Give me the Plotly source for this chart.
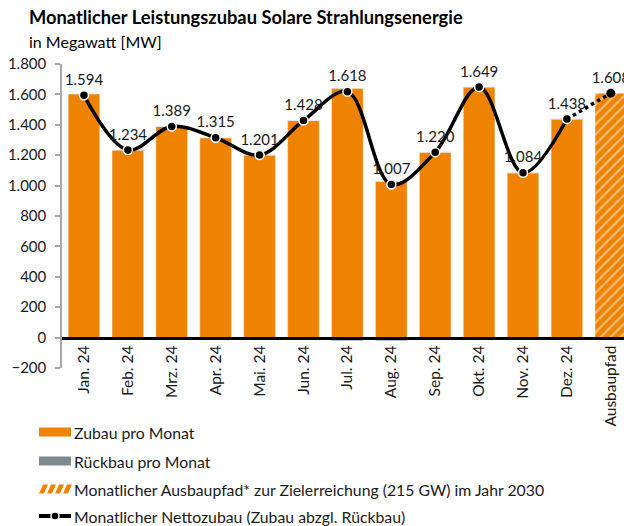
import plotly.graph_objects as go

# ---------------- data ----------------
months = ["Jan. 24", "Feb. 24", "Mrz. 24", "Apr. 24", "Mai. 24", "Jun. 24",
          "Jul. 24", "Aug. 24", "Sep. 24", "Okt. 24", "Nov. 24", "Dez. 24"]
target_label = "Ausbaupfad"
zubau = [1602, 1234, 1389, 1315, 1201, 1428, 1638, 1027, 1220, 1649, 1084, 1438]
rueckbau = [-8, 0, 0, 0, 0, 0, -20, -20, 0, 0, 0, 0]
netto = [1594, 1234, 1389, 1315, 1201, 1428, 1618, 1007, 1220, 1649, 1084, 1438]
ausbaupfad = [1608]
y_ticks = [-200, 0, 200, 400, 600, 800, 1000, 1200, 1400, 1600, 1800]

ORANGE = "#EF8200"
GREY = "#7F8A90"
FONT = "Lato"

# plot area in pixels (for legend/title placement helpers)
W, H = 624, 526
L, R, T, B = 62, 624, 64, 368


def px(x):
    return (x - L) / (R - L)


def py(y):
    return (B - y) / (B - T)


fig = go.Figure()

fig.add_trace(go.Bar(x=months, y=zubau, marker_color=ORANGE, name="Zubau pro Monat",
                     width=0.72, showlegend=False))
fig.add_trace(go.Bar(x=months, y=rueckbau, marker_color=GREY, name="Rückbau pro Monat",
                     width=0.72, showlegend=False))
fig.add_trace(go.Bar(x=[target_label], y=ausbaupfad, width=0.72, showlegend=False,
                     name="Monatlicher Ausbaupfad",
                     marker=dict(color=ORANGE,
                                 pattern=dict(shape="/", fgcolor="white", fillmode="overlay",
                                              size=7, solidity=0.3))))

# dotted extension Dez -> Ausbaupfad
fig.add_trace(go.Scatter(x=[months[-1], target_label], y=[netto[-1], ausbaupfad[0]],
                         mode="lines", line=dict(color="black", width=3.5, dash="dot"),
                         showlegend=False, hoverinfo="skip"))
# solid smoothed net line
fig.add_trace(go.Scatter(x=months, y=netto, mode="lines+markers+text",
                         line=dict(color="black", width=3.5, shape="spline", smoothing=1.0),
                         marker=dict(color="black", size=9, line=dict(color="white", width=1.5)),
                         texttemplate="%{y:,.0f}", textposition="top center",
                         textfont=dict(family=FONT, size=15, color="#1a1a1a"),
                         name="Monatlicher Nettozubau", showlegend=False, cliponaxis=False))
fig.add_trace(go.Scatter(x=[target_label], y=ausbaupfad, mode="markers+text",
                         marker=dict(color="black", size=9),
                         texttemplate="%{y:,.0f}", textposition="top center",
                         textfont=dict(family=FONT, size=15, color="#1a1a1a"),
                         showlegend=False, cliponaxis=False))

shapes = []
annotations = []

# title
annotations.append(dict(text="<b>Monatlicher Leistungszubau Solare Strahlungsenergie</b>",
                        xref="paper", yref="paper", x=px(27), y=py(17), xanchor="left",
                        yanchor="middle", showarrow=False,
                        font=dict(family=FONT, size=18.3, color="black")))
annotations.append(dict(text="in Megawatt [MW]", xref="paper", yref="paper", x=px(27), y=py(42),
                        xanchor="left", yanchor="middle", showarrow=False,
                        font=dict(family=FONT, size=16, color="black")))

# manual legend
leg_rows = [432, 461, 489, 516]
leg_text = ["Zubau pro Monat", "Rückbau pro Monat",
            "Monatlicher Ausbaupfad* zur Zielerreichung (215 GW) im Jahr 2030",
            "Monatlicher Nettozubau (Zubau abzgl. Rückbau)"]
x0, x1 = 39, 71
for i, (yy, t) in enumerate(zip(leg_rows, leg_text)):
    annotations.append(dict(text=t, xref="paper", yref="paper", x=px(72), y=py(yy),
                            xanchor="left", yanchor="middle", showarrow=False,
                            font=dict(family=FONT, size=15.8, color="#1a1a1a")))
# orange rect
shapes.append(dict(type="rect", xref="paper", yref="paper", x0=px(x0), x1=px(x1),
                   y0=py(leg_rows[0] - 4.5), y1=py(leg_rows[0] + 4.5),
                   fillcolor=ORANGE, line=dict(width=0)))
# grey rect
shapes.append(dict(type="rect", xref="paper", yref="paper", x0=px(x0), x1=px(x1),
                   y0=py(leg_rows[1] - 4.5), y1=py(leg_rows[1] + 4.5),
                   fillcolor=GREY, line=dict(width=0)))
# hatched symbol: slanted orange parallelograms
yc = leg_rows[2]
for k in range(4):
    bx = x0 + k * 8
    path = "M {a},{b} L {c},{b} L {d},{e} L {f},{e} Z".format(
        a=px(bx), b=py(yc + 4.5), c=px(bx + 5), d=px(bx + 9), e=py(yc - 4.5), f=px(bx + 4))
    shapes.append(dict(type="path", xref="paper", yref="paper", path=path,
                       fillcolor=ORANGE, line=dict(width=0)))
# line symbol
yc = leg_rows[3]
shapes.append(dict(type="line", xref="paper", yref="paper", x0=px(x0), x1=px(x1),
                   y0=py(yc), y1=py(yc), line=dict(color="black", width=4)))
shapes.append(dict(type="circle", xref="paper", yref="paper", x0=px(51), x1=px(59),
                   y0=py(yc + 4), y1=py(yc - 4), fillcolor="black",
                   line=dict(color="white", width=1.5)))

fig.update_layout(
    width=W, height=H,
    margin=dict(l=L, r=W - R, t=T, b=H - B, autoexpand=False),
    paper_bgcolor="white", plot_bgcolor="white",
    barmode="relative", bargap=0.28,
    separators=",.",
    showlegend=False,
    shapes=shapes, annotations=annotations,
    font=dict(family=FONT, size=15, color="#1a1a1a"),
    xaxis=dict(categoryorder="array", categoryarray=months + [target_label],
               range=[-0.5, 12.3], anchor="free", position=0.1, automargin=False,
               showline=True, linecolor="black", linewidth=2.5,
               ticks="", tickangle=-90, showgrid=False, zeroline=False,
               tickfont=dict(family=FONT, size=15.5, color="#1a1a1a")),
    yaxis=dict(range=[-200, 1800], tickvals=y_ticks, tickformat=",.0f", automargin=False,
               showline=True, linecolor="#A6A6A6", linewidth=1.5,
               ticks="outside", ticklen=5, tickcolor="#A6A6A6", tickwidth=1.5,
               showgrid=False, zeroline=False, ticklabelstandoff=6,
               tickfont=dict(family=FONT, size=15, color="#1a1a1a")),
)

fig.write_html("out.html", config={"displayModeBar": False},
               post_script="document.body.style.margin='0';document.body.style.overflow='hidden';")
